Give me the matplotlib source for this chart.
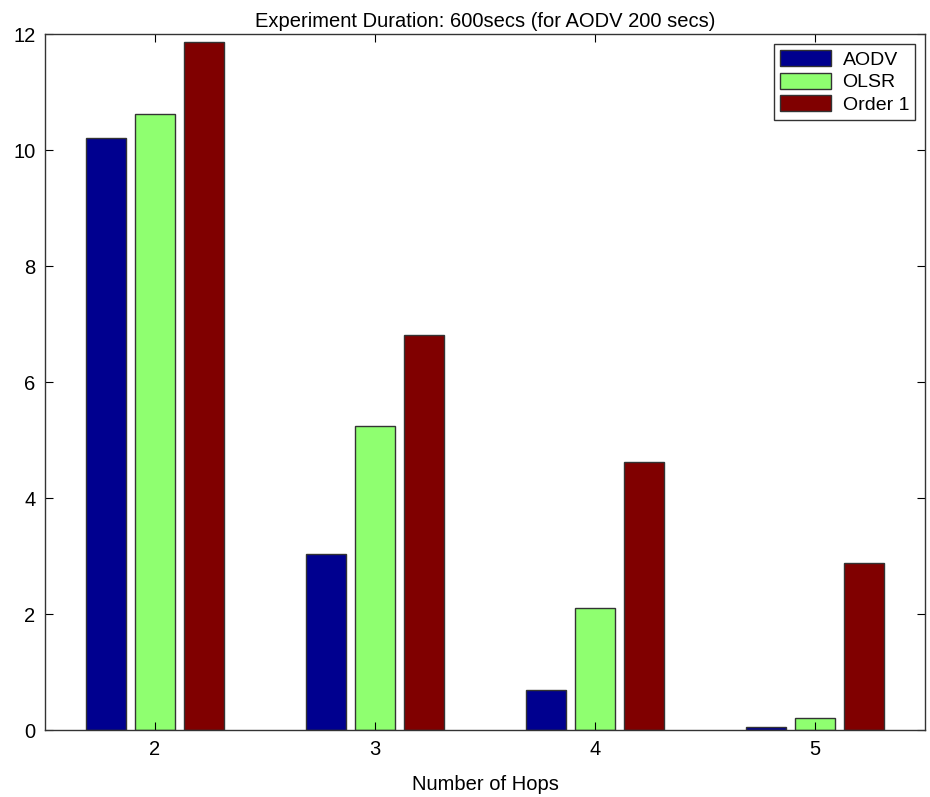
import numpy as np
import matplotlib.pyplot as plt

hops = [2, 3, 4, 5]
aodv = [10.21, 3.03, 0.69, 0.06]
olsr = [10.62, 5.24, 2.10, 0.21]
order1 = [11.86, 6.81, 4.62, 2.88]

series = [('AODV', aodv, '#00008f'),
          ('OLSR', olsr, '#8fff70'),
          ('Order 1', order1, '#800000')]


def main():
    plt.rcParams['font.family'] = ['Liberation Sans', 'DejaVu Sans']
    fig = plt.figure(figsize=(9.3, 7.97), dpi=100)
    ax = fig.add_axes([0.0484, 0.084, 0.9462, 0.873])

    x = np.array(hops, dtype=float)
    offsets = [-0.222, 0.0, 0.222]
    for (name, vals, color), off in zip(series, offsets):
        ax.bar(x + off, vals, width=0.18, color=color, edgecolor='#333333',
               linewidth=1.0, label=name)

    ax.set_xlim(1.5, 5.5)
    ax.set_ylim(0, 12)
    ax.set_xticks(hops)
    ax.set_yticks(range(0, 13, 2))
    ax.tick_params(direction='in', top=True, right=True, length=6,
                   labelsize=14.5, pad=7)
    for s in ax.spines.values():
        s.set_linewidth(1.0)
        s.set_color('#333333')

    ax.set_title('Experiment Duration: 600secs (for AODV 200 secs)',
                 fontsize=14.5, pad=5)
    ax.set_xlabel('Number of Hops', fontsize=14.5, labelpad=12)

    leg = ax.legend(loc='upper right', fontsize=14, fancybox=False,
                    edgecolor='#333333', framealpha=1, handlelength=2.6,
                    handleheight=0.9, borderpad=0.3, labelspacing=0.2,
                    handletextpad=0.6, borderaxespad=0,
                    bbox_to_anchor=(0.9885, 0.986))
    leg.get_frame().set_linewidth(1.0)

    fig.savefig('out.png', dpi=100)


if __name__ == '__main__':
    main()
